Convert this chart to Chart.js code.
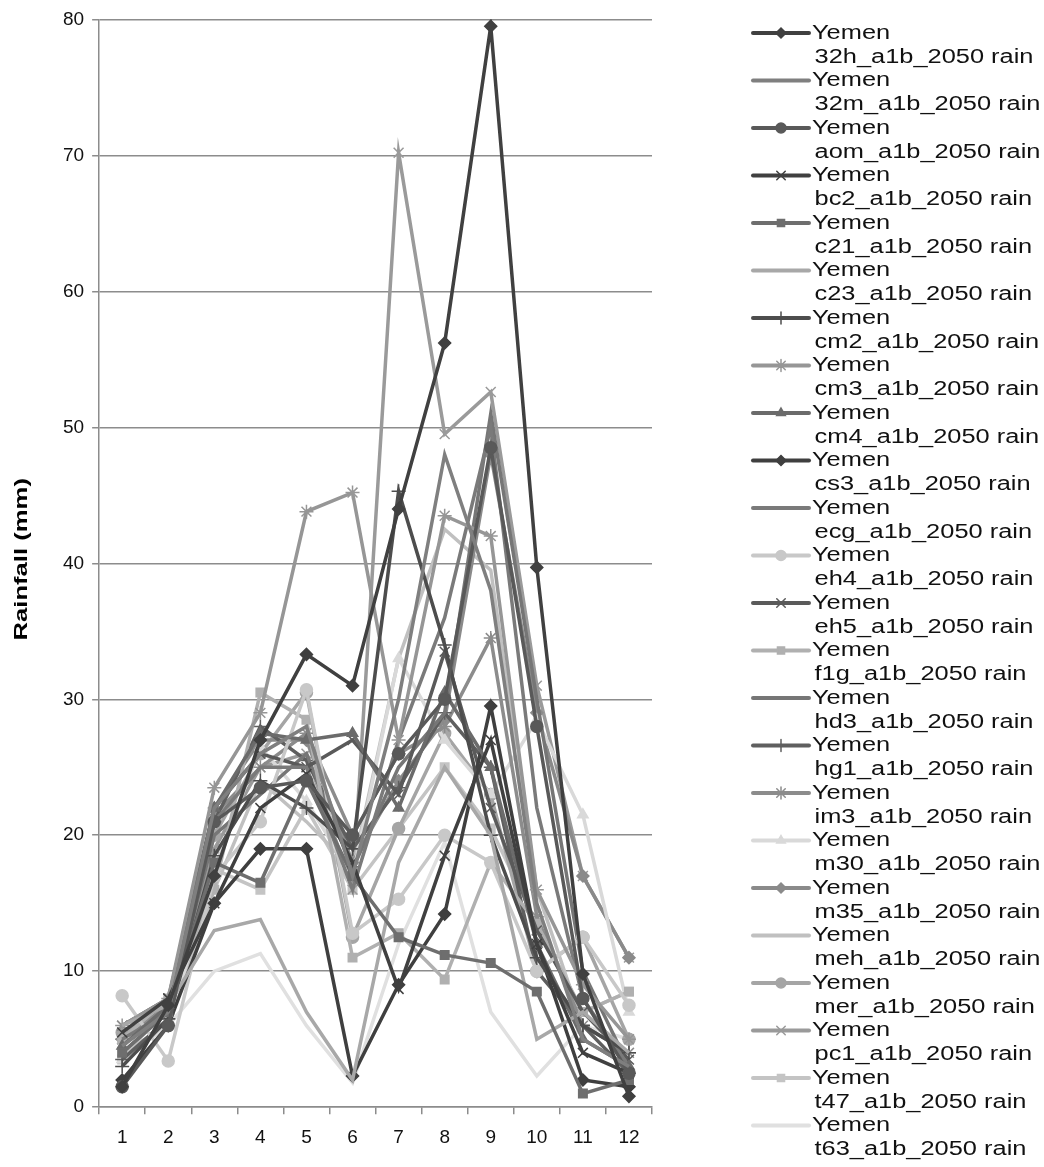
<!DOCTYPE html>
<html>
<head>
<meta charset="utf-8">
<script src="https://cdn.jsdelivr.net/npm/chart.js@4"></script>
<style>
  body { margin: 0; background: #fff; }
  #wrap { width: 1044px; height: 1167px; }
</style>
</head>
<body>
<div id="wrap"><canvas id="myChart" width="1044" height="1167"></canvas></div>
<script>
const months = ["1", "2", "3", "4", "5", "6", "7", "8", "9", "10", "11", "12"];
const models = ["32h", "32m", "aom", "bc2", "c21", "c23", "cm2", "cm3", "cm4", "cs3", "ecg", "eh4",
                "eh5", "f1g", "hd3", "hg1", "im3", "m30", "m35", "meh", "mer", "pc1", "t47", "t63"];

const r32h = [1.5, 7.5, 17, 27, 33.3, 31, 44, 56.2, 79.5, 39.7, 9.8, 0.8];
const r32m = [4.5, 7, 22, 26, 28, 17, 30, 48, 38, 15, 5, 3];
const aom = [1.5, 6, 21, 23.5, 24, 20, 26, 30, 48.5, 28, 8, 2.5];
const bc2 = [5.5, 8, 15, 22, 24.5, 18, 8.7, 18.5, 27, 12, 4, 2.5];
const c21 = [4, 7, 18, 16.5, 24, 17, 12.5, 11.2, 10.6, 8.5, 1, 2];
const c23 = [6, 7.5, 13, 13.8, 7, 2, 18, 25, 20, 5, 7, 4];
const cm2 = [3, 6.5, 18.5, 24, 22, 19, 45.3, 34, 20, 11, 6, 4];
const cm3 = [6, 8, 23.5, 29, 43.8, 45.2, 27, 43.5, 42, 16, 9, 5];
const cm4 = [4.5, 7.5, 22, 27.5, 27, 27.5, 22, 30.5, 25, 12, 5, 3];
const cs3 = [2, 6, 15, 19, 19, 2.3, 9, 14.2, 29.5, 12, 2, 1.5];
const ecg = [5, 7, 21, 25, 25, 16, 27, 36, 50, 22, 8, 3];
const eh4 = [8.2, 3.4, 17, 21, 30.7, 12.8, 15.3, 20, 18, 10, 12.5, 7.5];
const eh5 = [6, 8, 22, 26, 25, 27, 23, 33.5, 22, 13, 7, 3.5];
const f1g = [5, 8, 16, 30.5, 28.5, 11, 12.8, 9.4, 18, 13.5, 7, 8.5];
const hd3 = [4, 7, 20, 23, 26, 17.5, 25, 29, 51, 30, 10, 3];
const hg1 = [3.5, 6.5, 21, 28, 25.5, 19, 23.5, 29, 25, 10, 6, 2.5];
const im3 = [5, 7.5, 21.5, 25, 27.5, 20, 26, 28, 34.5, 14, 6, 4];
const m30 = [3.5, 6, 17.5, 26.5, 22.5, 17, 33, 27, 23, 28.5, 21.5, 7];
const m35 = [5, 7.5, 22, 27, 27, 18, 24, 28.5, 48, 29, 17, 11];
const meh = [4, 6, 16, 24, 21, 17.5, 33, 42.5, 39.5, 16, 6, 4];
const mer = [5.5, 7, 20, 26, 30.5, 12.5, 20.5, 27.5, 23, 10, 12.5, 5];
const pc1 = [5, 7.5, 19, 25, 26, 16, 70.2, 49.5, 52.6, 31, 17, 11];
const t47 = [3.5, 7.5, 17.5, 16, 22, 16, 20.5, 25, 20.5, 13.5, 7, 8.5];
const t63 = [4, 6, 10, 11.3, 6, 1.8, 12, 19.5, 7, 2.3, 6, 5];

const seriesValues = [r32h, r32m, aom, bc2, c21, c23, cm2, cm3, cm4, cs3, ecg, eh4,
                      eh5, f1g, hd3, hg1, im3, m30, m35, meh, mer, pc1, t47, t63];
const colors = ["#404040", "#7f7f7f", "#595959", "#404040", "#6e6e6e", "#a8a8a8", "#4d4d4d", "#969696",
                "#6b6b6b", "#3f3f3f", "#7a7a7a", "#c8c8c8", "#5a5a5a", "#b0b0b0", "#767676", "#5f5f5f",
                "#8c8c8c", "#d9d9d9", "#8a8a8a", "#c0c0c0", "#a5a5a5", "#9a9a9a", "#c4c4c4", "#e0e0e0"];
const markers = ["rectRot", false, "circle", "crossRot", "rect", false, "cross", "star", "triangle",
                 "rectRot", false, "circle", "crossRot", "rect", false, "cross", "star", "triangle",
                 "rectRot", false, "circle", "crossRot", "rect", false];

const FONT = "'Liberation Sans', Arial, sans-serif";

function markerRadius(m) {
    if (!m) return 0;
    if (m === "crossRot" || m === "star" || m === "cross") return 7;
    return 6;
}

function prepareData() {
    const datasets = [];
    seriesValues.forEach((vals, i) => {
        const m = markers[i];
        datasets.push({
            label: "Yemen " + models[i] + "_a1b_2050 rain",
            data: vals,
            borderColor: colors[i],
            backgroundColor: colors[i],
            borderWidth: 3.5,
            pointStyle: m || "circle",
            pointRadius: markerRadius(m),
            pointBorderWidth: 1.5,
            pointBackgroundColor: colors[i],
            pointBorderColor: colors[i],
            fill: false,
            tension: 0
        });
    });
    return { labels: months, datasets: datasets };
}

// legend and axis title drawn on the canvas (text in the original is stretched wide)
const sideLegend = {
    id: "sideLegend",
    afterDraw(chart) {
        const ctx = chart.ctx;
        ctx.save();
        chart.data.datasets.forEach((ds, i) => {
            const y = 33 + i * 47.5;
            ctx.strokeStyle = ds.borderColor;
            ctx.lineWidth = 4;
            ctx.lineCap = "round";
            ctx.beginPath();
            ctx.moveTo(753, y);
            ctx.lineTo(809, y);
            ctx.stroke();
            if (markers[i]) {
                ctx.fillStyle = ds.borderColor;
                ctx.strokeStyle = ds.borderColor;
                ctx.lineWidth = 1.5;
                Chart.helpers.drawPoint(ctx, {
                    pointStyle: markers[i],
                    radius: markerRadius(markers[i]) - 1,
                    borderWidth: 1.5,
                    rotation: 0
                }, 781, y);
            }
            ctx.fillStyle = "#111";
            ctx.font = "20px " + FONT;
            ctx.textBaseline = "middle";
            ctx.textAlign = "left";
            ctx.save();
            ctx.translate(812, y);
            ctx.scale(1.27, 1);
            ctx.fillText("Yemen", 0, 0);
            ctx.fillText(models[i] + "_a1b_2050 rain", 2, 24);
            ctx.restore();
        });

        ctx.translate(22, (chart.chartArea.top + chart.chartArea.bottom) / 2 - 4);
        ctx.rotate(-Math.PI / 2);
        ctx.scale(1.35, 1);
        ctx.fillStyle = "#000";
        ctx.font = "bold 19px " + FONT;
        ctx.textAlign = "center";
        ctx.textBaseline = "middle";
        ctx.fillText("Rainfall (mm)", 0, 0);
        ctx.restore();
    }
};

function drawChart(data) {
    const ctx = document.getElementById("myChart").getContext("2d");
    new Chart(ctx, {
        type: "line",
        data: data,
        plugins: [sideLegend],
        options: {
            responsive: false,
            animation: false,
            layout: { padding: { top: 11, right: 392, bottom: 6, left: 55 } },
            plugins: {
                legend: { display: false },
                tooltip: { enabled: false }
            },
            scales: {
                x: {
                    offset: true,
                    grid: {
                        offset: true,
                        drawOnChartArea: false,
                        drawTicks: true,
                        tickLength: 7,
                        color: "#8c8c8c",
                        lineWidth: 1.5
                    },
                    border: { color: "#8c8c8c", width: 1.5 },
                    ticks: { color: "#111", font: { family: FONT, size: 19 }, padding: 12 }
                },
                y: {
                    min: 0,
                    max: 80,
                    ticks: { stepSize: 10, color: "#111", font: { family: FONT, size: 19 }, padding: 8 },
                    grid: { color: "#8c8c8c", lineWidth: 1.5, tickLength: 7 },
                    border: { color: "#8c8c8c", width: 1.5 }
                }
            }
        }
    });
}

drawChart(prepareData());
</script>
</body>
</html>
